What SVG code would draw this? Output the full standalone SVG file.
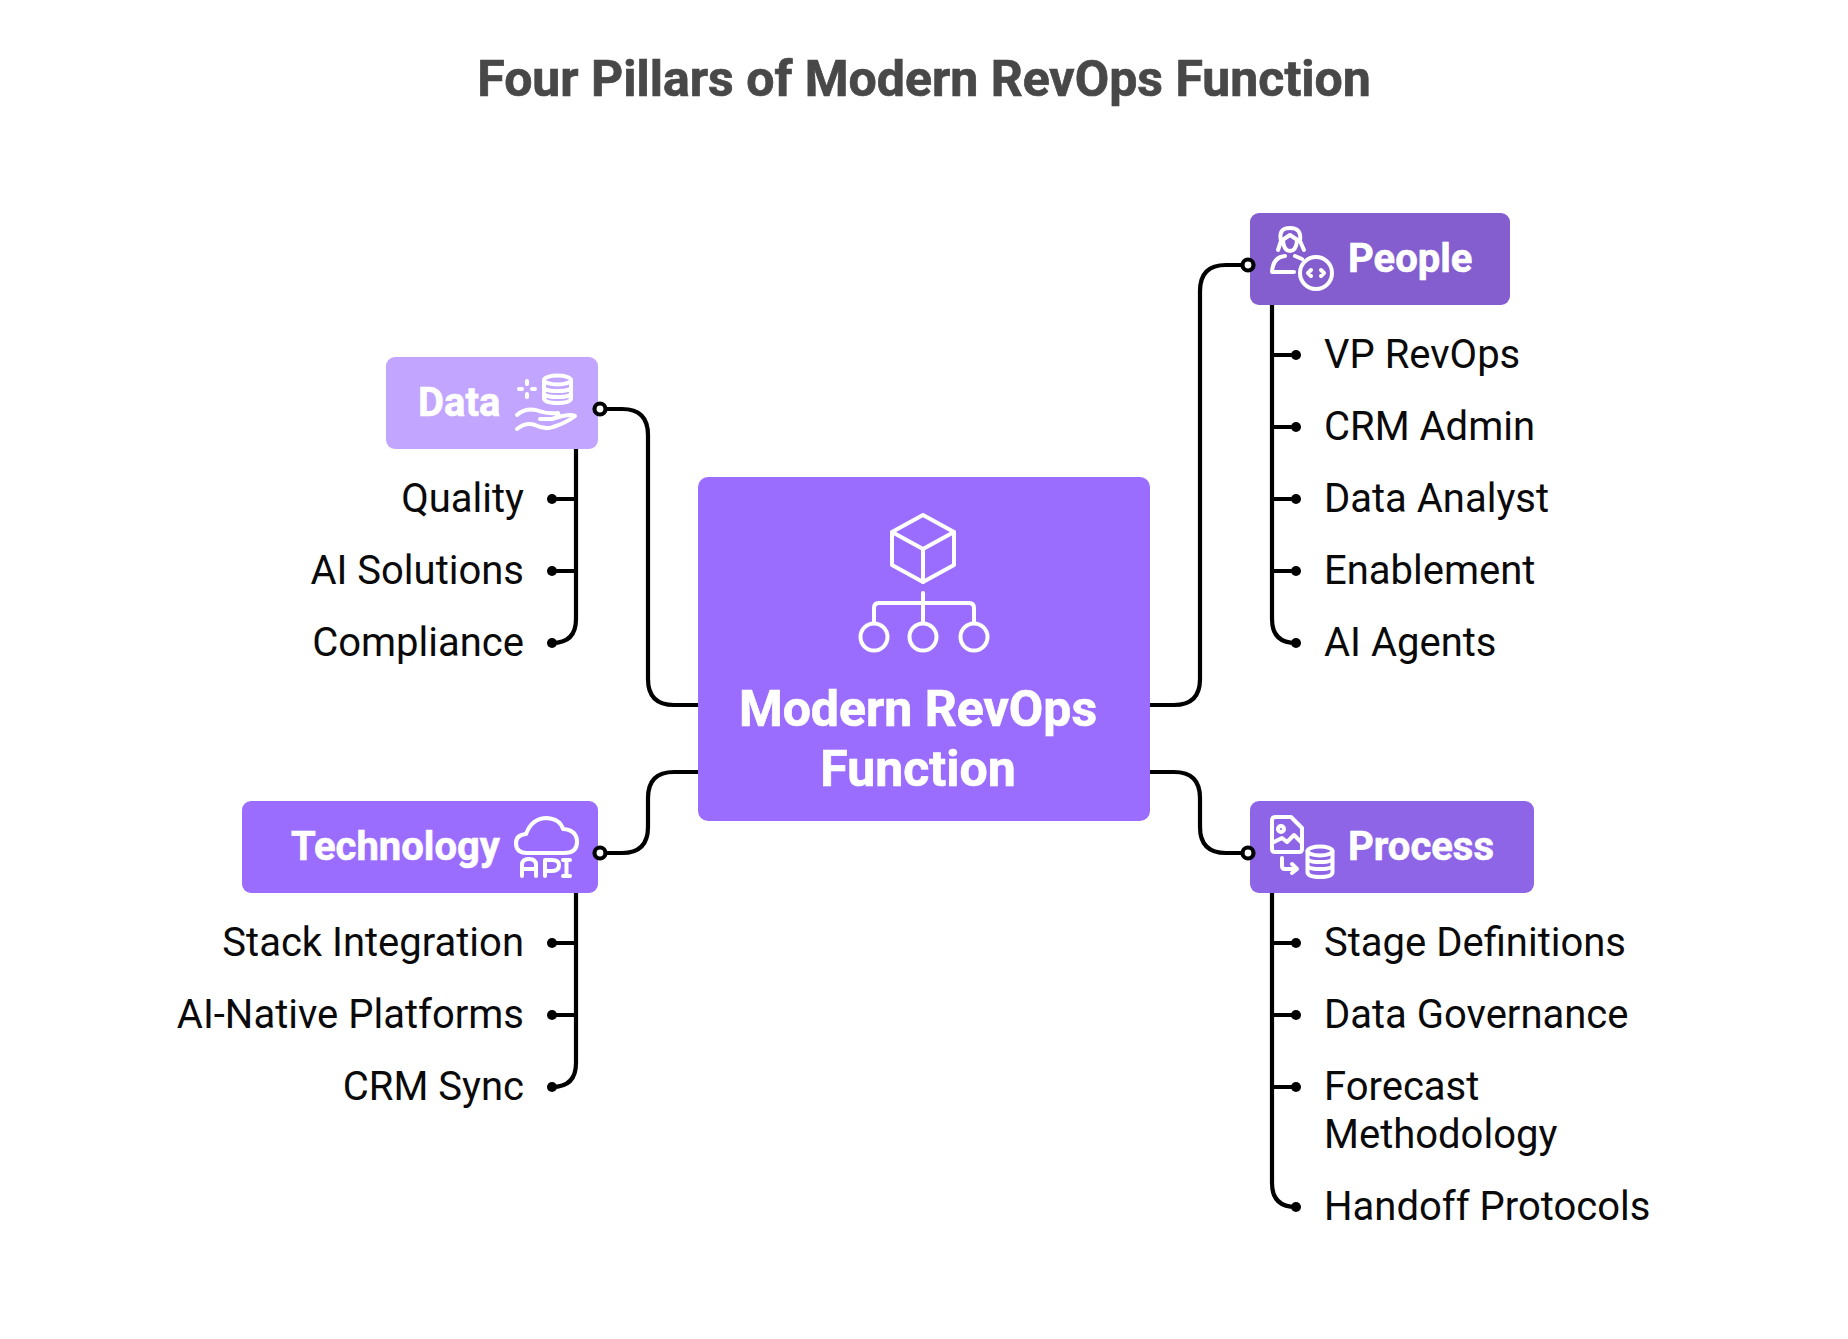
<svg xmlns="http://www.w3.org/2000/svg" width="1848" height="1339" viewBox="0 0 1848 1339">
<style>
text{font-family:Roboto,"Liberation Sans",sans-serif}
.t{font-size:40px;fill:#0a0a0a}
.e{text-anchor:end}
.h{font-size:40px;font-weight:700;fill:#fff;stroke:#fff;stroke-width:.6}
.c{font-size:50px;font-weight:700;fill:#fff;text-anchor:middle;stroke:#fff;stroke-width:.7}
.l{fill:none;stroke:#000;stroke-width:4.200;stroke-linecap:round}
.d{fill:#000}
.o{fill:#fff;stroke:#000;stroke-width:4.200}
.i{fill:none;stroke:#fff;stroke-width:4;stroke-linecap:round;stroke-linejoin:round}
</style>
<rect width="1848" height="1339" fill="#fff"/>
<text x="924" y="96" font-size="50" font-weight="700" fill="#484848" stroke="#484848" stroke-width=".7" text-anchor="middle" id="title">Four Pillars of Modern RevOps Function</text>
<g id="connectors">
<path class="l" d="M698 705H674Q648 705 648 679V435Q648 409 622 409H600"/>
<path class="l" d="M1150 705H1174Q1200 705 1200 679V291Q1200 265 1226 265H1248"/>
<path class="l" d="M698 772H674Q648 772 648 798V827Q648 853 622 853H600"/>
<path class="l" d="M1150 772H1174Q1200 772 1200 798V827Q1200 853 1226 853H1248"/>
<path class="l" d="M576 449V619Q576 643 552 643"/>
<path class="l" d="M576 499H552M576 571H552"/>
<path class="l" d="M576 893V1063Q576 1087 552 1087"/>
<path class="l" d="M576 943H552M576 1015H552"/>
<path class="l" d="M1272 305V619Q1272 643 1296 643"/>
<path class="l" d="M1272 355H1296M1272 427H1296M1272 499H1296M1272 571H1296"/>
<path class="l" d="M1272 893V1183Q1272 1207 1296 1207"/>
<path class="l" d="M1272 943H1296M1272 1015H1296M1272 1087H1296"/>
<g class="d">
<circle cx="552" cy="499" r="5"/><circle cx="552" cy="571" r="5"/><circle cx="552" cy="643" r="5"/>
<circle cx="552" cy="943" r="5"/><circle cx="552" cy="1015" r="5"/><circle cx="552" cy="1087" r="5"/>
<circle cx="1296" cy="355" r="5"/><circle cx="1296" cy="427" r="5"/><circle cx="1296" cy="499" r="5"/><circle cx="1296" cy="571" r="5"/><circle cx="1296" cy="643" r="5"/>
<circle cx="1296" cy="943" r="5"/><circle cx="1296" cy="1015" r="5"/><circle cx="1296" cy="1087" r="5"/><circle cx="1296" cy="1207" r="5"/>
</g>
</g>
<g id="center">
<rect x="698" y="477" width="452" height="344" rx="10" fill="#9b6dff"/>
<g class="i">
<path d="M923 515L954 532V565L923 582L892 565V532Z"/><path d="M892 532L923 549L954 532M923 549V582"/>
<path d="M923 593V623M874 623V608Q874 603 879 603H969Q974 603 974 608V623"/>
<circle cx="874" cy="637" r="13.500"/><circle cx="923" cy="637" r="13.500"/><circle cx="974" cy="637" r="13.500"/>
</g>
<text class="c" x="918" y="726">Modern RevOps</text>
<text class="c" x="918" y="786">Function</text>
</g>
<g id="data">
<rect x="386" y="357" width="212" height="92" rx="9" fill="#c2a5ff"/>
<text class="h" x="418" y="416">Data</text>
<g class="i">
<ellipse cx="557.500" cy="380" rx="13.500" ry="4.500"/><path d="M544 380V398Q544 403 557.500 403Q571 403 571 398V380M544 387Q544 391 557.500 391Q571 391 571 387M544 393Q544 397 557.500 397Q571 397 571 393"/>
<path d="M527 381V384M527 394V397M519 389H522M532 389H535"/>
<path d="M517 415Q525 408 536 410Q546 414 558 413Q560 417 552 419H540M517 429Q526 422 535 425Q545 430 553 427Q566 423 575 416Q570 413 552 419"/>
</g>
</g>
<g id="people">
<rect x="1250" y="213" width="260" height="92" rx="9" fill="#845ecf"/>
<g class="i">
<path d="M1278 250L1281 241Q1278 228 1290 228Q1302 228 1300 241L1304 250"/>
<path d="M1281 241L1290 235L1299 241"/>
<path d="M1283 241Q1284 251 1290 251Q1296 251 1297 241"/>
<path d="M1272 272H1294M1272 272Q1273 257 1285 256M1295 256L1302 259"/>
<circle cx="1316" cy="273" r="16"/><path d="M1311 270L1308 273L1311 276M1321 270L1324 273L1321 276"/>
</g>
<text class="h" x="1348" y="272">People</text>
</g>
<g id="technology">
<rect x="242" y="801" width="356" height="92" rx="9" fill="#9b6dff"/>
<text class="h" x="291" y="860">Technology</text>
<g class="i">
<path d="M527 853Q516 853 516 843Q516 835 526 834Q532 818 547 818Q560 819 563 829Q577 830 577 842Q577 853 564 853Z"/>
<path d="M522 876V865Q522 859 529 859Q536 859 536 865V876M522 869H536M545 876V860H552Q559 860 559 865Q559 871 552 871H545M563 860H570M566.500 860V876M563 876H570"/>
</g>
</g>
<g id="process">
<rect x="1250" y="801" width="284" height="92" rx="9" fill="#8f65e8"/>
<g class="i">
<path d="M1276 817H1291L1302 828V849Q1302 852 1299 852H1275Q1272 852 1272 849V820Q1272 817 1276 817Z"/>
<circle cx="1281" cy="829" r="3"/><path d="M1274 842L1282 838L1287 842L1294 835L1301 842"/>
<path d="M1282 858V866Q1282 869 1285 869H1297M1292 864L1297 869L1292 873"/>
<ellipse cx="1320" cy="851" rx="12.500" ry="4.500"/><path d="M1307.500 851V872Q1307.500 877 1320 877Q1332.500 877 1332.500 872V851M1307.500 858Q1307.500 862 1320 862Q1332.500 862 1332.500 858M1307.500 865Q1307.500 869 1320 869Q1332.500 869 1332.500 865"/>
</g>
<text class="h" x="1348" y="860">Process</text>
</g>
<g id="ports">
<circle class="o" cx="600" cy="409" r="5.500"/><circle class="o" cx="1248" cy="265" r="5.500"/><circle class="o" cx="600" cy="853" r="5.500"/><circle class="o" cx="1248" cy="853" r="5.500"/>
</g>
<g id="items">
<text class="t e" x="524" y="512">Quality</text>
<text class="t e" x="524" y="584">AI Solutions</text>
<text class="t e" x="524" y="656">Compliance</text>
<text class="t e" x="524" y="956">Stack Integration</text>
<text class="t e" x="524" y="1028">AI-Native Platforms</text>
<text class="t e" x="524" y="1100">CRM Sync</text>
<text class="t" x="1324" y="368">VP RevOps</text>
<text class="t" x="1324" y="440">CRM Admin</text>
<text class="t" x="1324" y="512">Data Analyst</text>
<text class="t" x="1324" y="584">Enablement</text>
<text class="t" x="1324" y="656">AI Agents</text>
<text class="t" x="1324" y="956">Stage Definitions</text>
<text class="t" x="1324" y="1028">Data Governance</text>
<text class="t" x="1324" y="1100">Forecast</text>
<text class="t" x="1324" y="1148">Methodology</text>
<text class="t" x="1324" y="1220">Handoff Protocols</text>
</g>
</svg>
